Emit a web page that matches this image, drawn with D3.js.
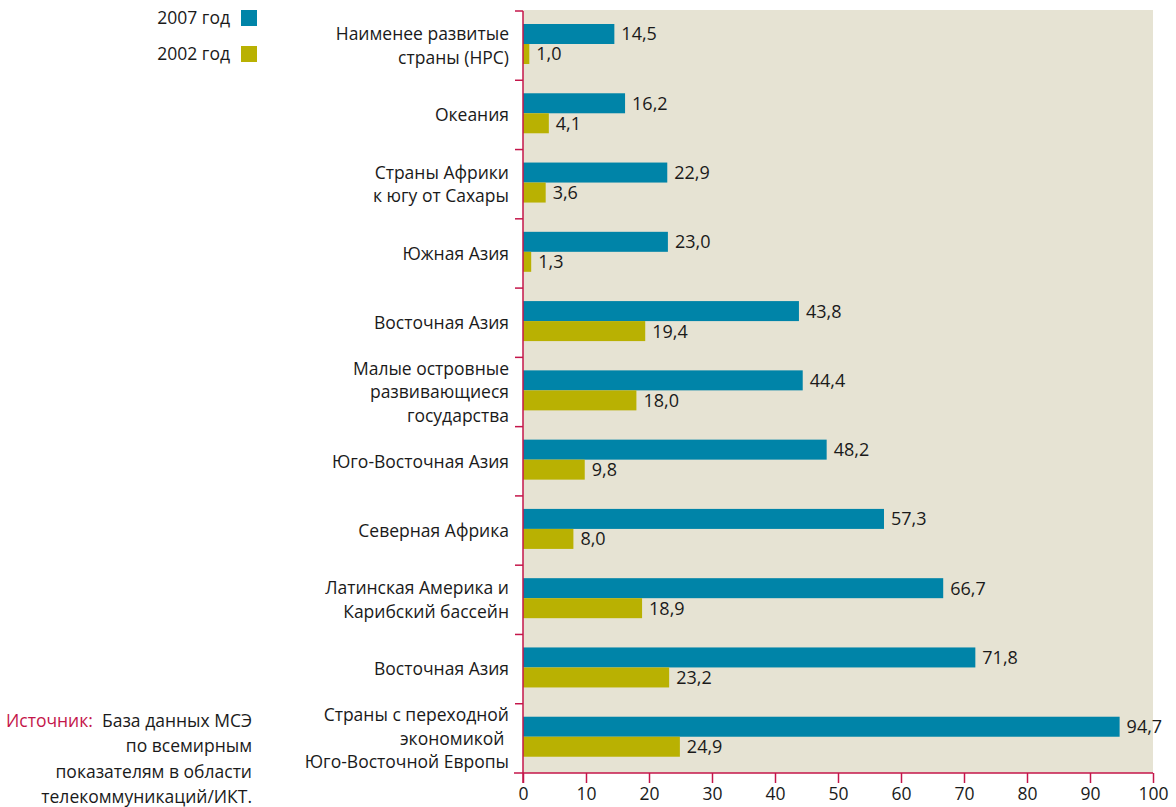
<!DOCTYPE html>
<html>
<head>
<meta charset="utf-8">
<script src="https://cdn.jsdelivr.net/npm/d3@7/dist/d3.min.js"></script>
<style>
  body { margin: 0; background: #fff; }
  text { font-family: "Open Sans", "Noto Sans", sans-serif; fill: #1a1a1a; }
</style>
</head>
<body>
<div id="chart"></div>
<script>
var WIDTH = 1176
var HEIGHT = 807

// categories, top to bottom (lines split for wrapping)
var categories = [
  ['Наименее развитые', 'страны (НРС)'],
  ['Океания'],
  ['Страны Африки', 'к югу от Сахары'],
  ['Южная Азия'],
  ['Восточная Азия'],
  ['Малые островные', 'развивающиеся', 'государства'],
  ['Юго-Восточная Азия'],
  ['Северная Африка'],
  ['Латинская Америка и', 'Карибский бассейн'],
  ['Восточная Азия'],
  ['Страны с переходной', 'экономикой ', 'Юго-Восточной Европы']
]
var values2007 = [14.5, 16.2, 22.9, 23.0, 43.8, 44.4, 48.2, 57.3, 66.7, 71.8, 94.7]
var values2002 = [1.0, 4.1, 3.6, 1.3, 19.4, 18.0, 9.8, 8.0, 18.9, 23.2, 24.9]
var xTicks = [0, 10, 20, 30, 40, 50, 60, 70, 80, 90, 100]
var seriesNames = ['2007 год', '2002 год']

var BLUE = '#0084a8'
var OLIVE = '#b9b102'
var BG = '#e6e3d3'
var AXIS = '#c4164a'

var LEFT = 523
var RIGHT = 1153
var TOP = 11
var BOTTOM = 773

var svg = d3.select('#chart').append('svg')
  .attr('width', WIDTH)
  .attr('height', HEIGHT)

var x = d3.scaleLinear().domain([0, 100]).range([LEFT, RIGHT])
var y = d3.scaleBand().domain(d3.range(categories.length)).range([TOP, BOTTOM])
var BAR_H = 20
var BAR_OFF = 13

// background
svg.append('rect')
  .attr('x', LEFT).attr('y', TOP - 1)
  .attr('width', RIGHT - LEFT).attr('height', BOTTOM - TOP + 1)
  .attr('fill', BG)

var fmt = function (v) { return d3.format('.1f')(v).replace('.', ',') }

var rows = svg.append('g').selectAll('g')
  .data(categories)
  .enter().append('g')
  .attr('transform', function (d, i) { return 'translate(0,' + y(i) + ')' })

// bars 2007
rows.append('rect')
  .attr('x', x(0))
  .attr('y', BAR_OFF)
  .attr('width', function (d, i) { return x(values2007[i]) - x(0) })
  .attr('height', BAR_H)
  .attr('fill', BLUE)

// bars 2002
rows.append('rect')
  .attr('x', x(0))
  .attr('y', BAR_OFF + BAR_H)
  .attr('width', function (d, i) { return x(values2002[i]) - x(0) })
  .attr('height', BAR_H)
  .attr('fill', OLIVE)

// value labels
rows.append('text')
  .attr('x', function (d, i) { return x(values2007[i]) + 7 })
  .attr('y', BAR_OFF + BAR_H / 2)
  .attr('dy', '0.36em')
  .attr('font-size', 18)
  .text(function (d, i) { return fmt(values2007[i]) })

rows.append('text')
  .attr('x', function (d, i) { return x(values2002[i]) + 7 })
  .attr('y', BAR_OFF + BAR_H * 1.5)
  .attr('dy', '0.36em')
  .attr('font-size', 18)
  .text(function (d, i) { return fmt(values2002[i]) })

// category labels
var LINE_H = 23.5
rows.append('text')
  .attr('text-anchor', 'end')
  .attr('font-size', 17.5)
  .each(function (d) {
    var t = d3.select(this)
    var startY = y.bandwidth() / 2 - (d.length - 1) * LINE_H / 2
    d.forEach(function (line, k) {
      t.append('tspan')
        .attr('x', 509)
        .attr('y', startY + k * LINE_H)
        .attr('dy', '0.36em')
        .text(line)
    })
  })

// y axis: vertical line with separators
var yAxis = svg.append('g').attr('stroke', AXIS).attr('stroke-width', 1.5)
yAxis.append('line')
  .attr('x1', LEFT).attr('x2', LEFT)
  .attr('y1', TOP).attr('y2', BOTTOM + 10)
yAxis.selectAll('.sep')
  .data(d3.range(categories.length))
  .enter().append('line')
  .attr('x1', LEFT - 8).attr('x2', LEFT)
  .attr('y1', function (i) { return y(i) })
  .attr('y2', function (i) { return y(i) })

// x axis
var xAxis = d3.axisBottom(x)
  .tickValues(xTicks)
  .tickSize(10)
  .tickPadding(5)
  .tickFormat(d3.format('d'))
var gx = svg.append('g')
  .attr('transform', 'translate(0,' + BOTTOM + ')')
  .call(xAxis)
gx.select('.domain').remove()
gx.append('line')
  .attr('x1', LEFT - 9).attr('x2', RIGHT)
  .attr('stroke', AXIS).attr('stroke-width', 1.5)
gx.selectAll('.tick line').attr('stroke', AXIS).attr('stroke-width', 1.5)
gx.selectAll('.tick text')
  .attr('font-size', 17.5)
  .attr('font-family', '"Open Sans", sans-serif')
  .attr('fill', '#1a1a1a')

// legend
var legend = svg.append('g').selectAll('g')
  .data(seriesNames)
  .enter().append('g')
  .attr('transform', function (d, i) { return 'translate(0,' + (18 + i * 36) + ')' })
legend.append('rect')
  .attr('x', 241).attr('y', -8)
  .attr('width', 16).attr('height', 16)
  .attr('fill', function (d, i) { return i === 0 ? BLUE : OLIVE })
legend.append('text')
  .attr('x', 230).attr('dy', '0.36em')
  .attr('text-anchor', 'end')
  .attr('font-size', 17.5)
  .text(function (d) { return d })

// source note
var source = [
  ['Источник:', ' База данных МСЭ'],
  ['', 'по всемирным'],
  ['', 'показателям в области'],
  ['', 'телекоммуникаций/ИКТ.']
]
var src = svg.append('text')
  .attr('text-anchor', 'end')
  .attr('font-size', 17.5)
source.forEach(function (line, k) {
  var ts = src.append('tspan')
    .attr('x', 252)
    .attr('y', 727 + k * 25.3)
  if (line[0]) {
    ts.append('tspan').attr('fill', AXIS).text(line[0])
    ts.append('tspan').attr('fill', '#1a1a1a').text('\u00a0' + line[1])
  } else {
    ts.text(line[1])
  }
})
</script>
</body>
</html>
